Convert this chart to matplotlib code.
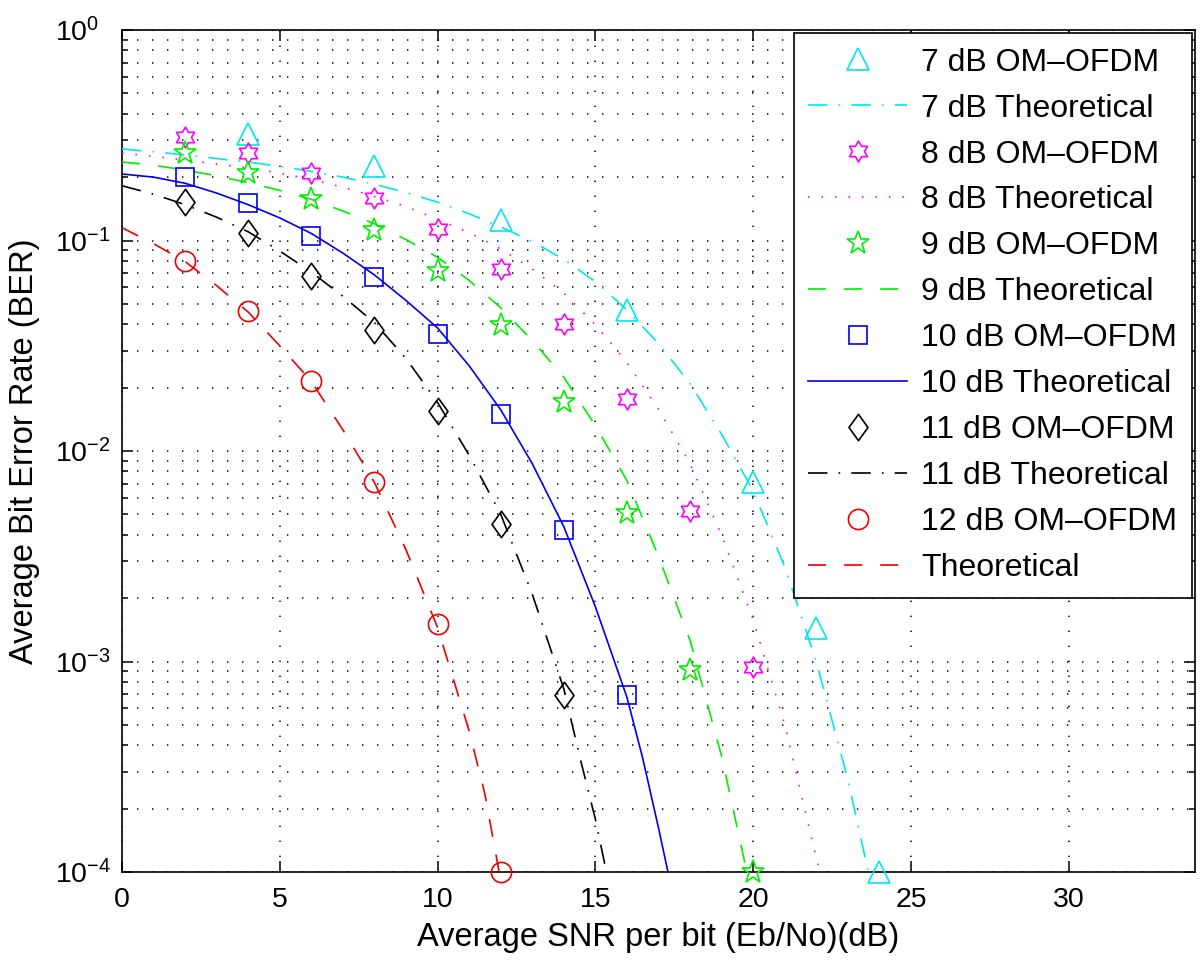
import numpy as np
import matplotlib
matplotlib.use("Agg")
import matplotlib.pyplot as plt
from matplotlib.path import Path
from matplotlib.ticker import FixedLocator, NullFormatter

plt.rcParams['font.family'] = ['Liberation Sans', 'DejaVu Sans']
plt.rcParams['mathtext.fontset'] = 'custom'
plt.rcParams['mathtext.rm'] = 'Liberation Sans'
plt.rcParams['mathtext.it'] = 'Liberation Sans:italic'
plt.rcParams['mathtext.bf'] = 'Liberation Sans:bold'
plt.rcParams['lines.scale_dashes'] = False

# ---------------- data ----------------
# simulated OM-OFDM points
x7 = [4, 8, 12, 16, 20, 22, 24]
ber7 = [0.32, 0.226, 0.125, 0.047, 0.0071, 0.00144, 1.0e-4]
x8 = [2, 4, 6, 8, 10, 12, 14, 16, 18, 20]
ber8 = [0.31, 0.26, 0.21, 0.16, 0.113, 0.073, 0.040, 0.0177, 0.0052, 0.00094]
x9 = [2, 4, 6, 8, 10, 12, 14, 16, 18, 20]
ber9 = [0.26, 0.21, 0.157, 0.112, 0.0716, 0.0396, 0.017, 0.0051, 0.00091, 1.0e-4]
x10 = [2, 4, 6, 8, 10, 12, 14, 16]
ber10 = [0.20, 0.15, 0.105, 0.067, 0.036, 0.015, 0.0042, 0.00069]
x11 = [2, 4, 6, 8, 10, 12, 14]
ber11 = [0.152, 0.108, 0.068, 0.0376, 0.0155, 0.0045, 0.00069]
x12 = [2, 4, 6, 8, 10, 12]
ber12 = [0.080, 0.046, 0.0214, 0.0071, 0.0015, 1.0e-4]

# theoretical curves
t7_x = [0, 1, 2, 3, 4, 5, 6, 7, 8, 9, 10, 11, 12, 13, 14, 15, 16, 17, 18, 19,
        20, 21, 22, 23, 23.65]
t7_y = [0.272, 0.264, 0.255, 0.245, 0.236, 0.225, 0.213, 0.200, 0.185, 0.169,
        0.152, 0.134, 0.116, 0.0989, 0.0813, 0.0638, 0.0468, 0.0324, 0.0209,
        0.0120, 0.00646, 0.00282, 0.0010, 0.000275, 1.0e-4]
t8_x = [0, 1, 2, 3, 4, 5, 6, 7, 8, 9, 10, 11, 12, 13, 14, 15, 16, 17, 18, 19,
        20, 21, 22, 22.12]
t8_y = [0.260, 0.251, 0.241, 0.231, 0.221, 0.209, 0.195, 0.179, 0.162, 0.145,
        0.126, 0.109, 0.0912, 0.0733, 0.0562, 0.0398, 0.0263, 0.0158, 0.00871,
        0.00398, 0.00158, 0.000501, 0.000117, 1.0e-4]
t9_x = [0, 1, 2, 3, 4, 5, 6, 7, 8, 9, 10, 11, 12, 13, 14, 15, 16, 17, 18, 19,
        19.8]
t9_y = [0.236, 0.228, 0.216, 0.203, 0.188, 0.173, 0.157, 0.138, 0.120, 0.101,
        0.0832, 0.0646, 0.0479, 0.0335, 0.0224, 0.0132, 0.00724, 0.00316,
        0.00126, 0.000355, 1.0e-4]
t10_x = [0, 1, 2, 3, 4, 5, 6, 7, 8, 9, 10, 11, 12, 13, 14, 15, 16, 16.5, 17,
         17.3]
t10_y = [0.207, 0.200, 0.187, 0.168, 0.148, 0.128, 0.108, 0.0871, 0.0686,
         0.0519, 0.0384, 0.0254, 0.0157, 0.00871, 0.00437, 0.00182, 0.000676,
         0.000347, 0.000162, 1.0e-4]
t11_x = [0, 1, 2, 3, 4, 5, 6, 7, 8, 9, 10, 11, 12, 13, 14, 14.5, 15, 15.35]
t11_y = [0.182, 0.166, 0.148, 0.129, 0.110, 0.0891, 0.0708, 0.0543, 0.0407,
         0.0275, 0.0170, 0.00955, 0.00501, 0.00209, 0.000741, 0.000355,
         0.000178, 1.0e-4]
t12_x = [0, 1, 2, 3, 4, 5, 6, 7, 8, 9, 10, 11, 11.5, 11.95]
t12_y = [0.115, 0.0966, 0.0794, 0.0610, 0.0457, 0.0316, 0.0214, 0.0126,
         0.00708, 0.00339, 0.00145, 0.000468, 0.000234, 1.0e-4]

labels = ['7 dB OM\u2013OFDM', '7 dB Theoretical',
          '8 dB OM\u2013OFDM', '8 dB Theoretical',
          '9 dB OM\u2013OFDM', '9 dB Theoretical',
          '10 dB OM\u2013OFDM', '10 dB Theoretical',
          '11 dB OM\u2013OFDM', '11 dB Theoretical',
          '12 dB OM\u2013OFDM', 'Theoretical']
x_ticks = [0, 5, 10, 15, 20, 25, 30]
y_ticks = [1e-4, 1e-3, 1e-2, 1e-1, 1e0]

# ---------------- marker shapes ----------------
ang6 = np.deg2rad(90 + np.arange(12) * 30)
rad6 = np.where(np.arange(12) % 2 == 0, 1.0, 1 / np.sqrt(3))
hexa_verts = np.column_stack([rad6 * np.cos(ang6), rad6 * np.sin(ang6)])
hexagram = Path(np.vstack([hexa_verts, hexa_verts[:1]]), closed=True)
diamond = Path([(0, 1), (0.72, 0), (0, -1), (-0.72, 0), (0, 1)], closed=True)

C_CY, C_MA, C_GR, C_BL, C_BK, C_RD = '#00E5EE', '#FF00FF', '#00EE00', '#0000EE', '#000000', '#EE0000'

DASH = (0, (13, 13))
DASHDOT = (0, (14, 8, 1.2, 8))
DOT = (0, (1.2, 8.5))

fig = plt.figure(figsize=(12, 9.61), dpi=100)
ax = fig.add_axes([122 / 1200, 1 - 872 / 961, (1195 - 122) / 1200, (872 - 30) / 961])

lw = 1.2
mew = 1.2
handles = []
def mk(x, y, marker, ms, color):
    h, = ax.plot(x, y, linestyle='none', marker=marker, ms=ms, mfc='none',
                 mec=color, mew=mew, clip_on=False, zorder=4)
    return h
def ln(x, y, ls, color):
    h, = ax.plot(x, y, linestyle=ls, color=color, lw=lw, zorder=3)
    return h

handles.append(mk(x7, ber7, '^', 16, C_CY))
handles.append(ln(t7_x, t7_y, DASHDOT, C_CY))
handles.append(mk(x8, ber8, hexagram, 15, C_MA))
handles.append(ln(t8_x, t8_y, DOT, C_MA))
handles.append(mk(x9, ber9, '*', 17, C_GR))
handles.append(ln(t9_x, t9_y, DASH, C_GR))
handles.append(mk(x10, ber10, 's', 12.5, C_BL))
handles.append(ln(t10_x, t10_y, '-', C_BL))
handles.append(mk(x11, ber11, diamond, 19, C_BK))
handles.append(ln(t11_x, t11_y, DASHDOT, C_BK))
handles.append(mk(x12, ber12, 'o', 14.5, C_RD))
handles.append(ln(t12_x, t12_y, DASH, C_RD))

ax.set_yscale('log')
ax.set_xlim(0, 34)
ax.set_ylim(1e-4, 1)
ax.xaxis.set_major_locator(FixedLocator(x_ticks))
ax.yaxis.set_major_locator(FixedLocator(y_ticks))
minors = [m * 10.0 ** e for e in range(-4, 0) for m in range(2, 10)]
ax.yaxis.set_minor_locator(FixedLocator(minors))
ax.yaxis.set_minor_formatter(NullFormatter())
ax.set_yticklabels([r'$10^{%d}$' % e for e in range(-4, 1)])

grid_kw = dict(color='black', linestyle=(0, (1.0, 9.8)), linewidth=1.1)
ax.grid(True, which='major', axis='both', **grid_kw)
ax.grid(True, which='minor', axis='y', **grid_kw)
ax.set_axisbelow(True)

ax.tick_params(which='both', direction='in', top=True, right=True,
               width=1.1, labelsize=20.5)
ax.tick_params(which='major', length=8)
ax.tick_params(which='minor', length=4)
ax.tick_params(axis='x', which='major', pad=11)
ax.tick_params(axis='y', which='major', pad=48)
for lbl in ax.get_yticklabels():
    lbl.set_horizontalalignment('left')
for s in ax.spines.values():
    s.set_linewidth(1.2)

ax.set_xlabel('Average SNR per bit (Eb/No)(dB)', fontsize=23.5)
ax.set_ylabel('Average Bit Error Rate (BER)', fontsize=23.5)
ax.xaxis.set_label_coords(0.5, -0.0594)
ax.yaxis.set_label_coords(-0.0763, 0.5)

leg = ax.legend(handles, labels, loc='upper right', bbox_to_anchor=(1.0, 1.0),
                fontsize=23, frameon=True, fancybox=False, framealpha=1,
                edgecolor='black', borderaxespad=0.1, borderpad=0.45,
                handlelength=3.1, handletextpad=0.45, labelspacing=0.5)
leg.get_frame().set_linewidth(1.2)
leg.set_zorder(10)

fig.savefig('out.png', dpi=100)
